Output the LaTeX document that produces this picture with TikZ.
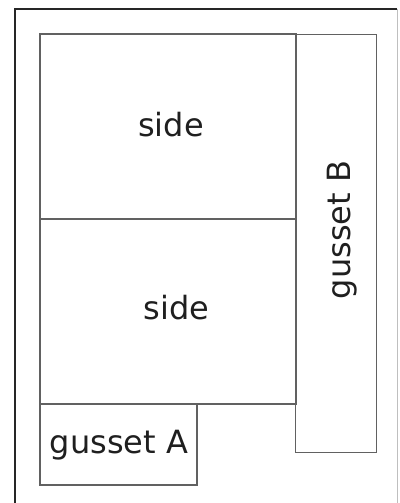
\documentclass[tikz,border=0pt]{standalone}
\usepackage{fontspec}
\setmainfont{DejaVu Sans}
\begin{document}
\begin{tikzpicture}[x=1pt,y=-1pt,
  piece/.style={draw=black!62,line width=1.4pt,inner sep=0pt,outer sep=0pt,
    font=\fontsize{32}{38}\selectfont,text=black!88},
]
\useasboundingbox (0,0) rectangle (399,503);
% frame
\draw[black!85,line width=1.2pt] (15,503) -- (15,9) -- (397,9);
\draw[black!25,line width=1pt] (397,9) -- (397,503);
% pieces
\node[piece,minimum width=256pt,minimum height=185pt] (side1) at (168,126.5) {};
\node[piece,minimum width=256pt,minimum height=185pt] (side2) at (168,311.5) {};
\node[piece,minimum width=80.5pt,minimum height=418.5pt] (gussetB) at (336,243.5) {};
\node[piece,minimum width=157pt,minimum height=81pt] (gussetA) at (118.5,444.5) {};
% labels
\node[font=\fontsize{32}{38}\selectfont,text=black!88] (l1) at (171,125) {side};
\node[font=\fontsize{32}{38}\selectfont,text=black!88] (l2) at (176.5,308) {side};
\node[font=\fontsize{32}{38}\selectfont,text=black!88,rotate=90] (l3) at (342,230) {gusset B};
\node[font=\fontsize{32}{38}\selectfont,text=black!88] (l4) at (119,445) {gusset A};
\end{tikzpicture}
\end{document}
